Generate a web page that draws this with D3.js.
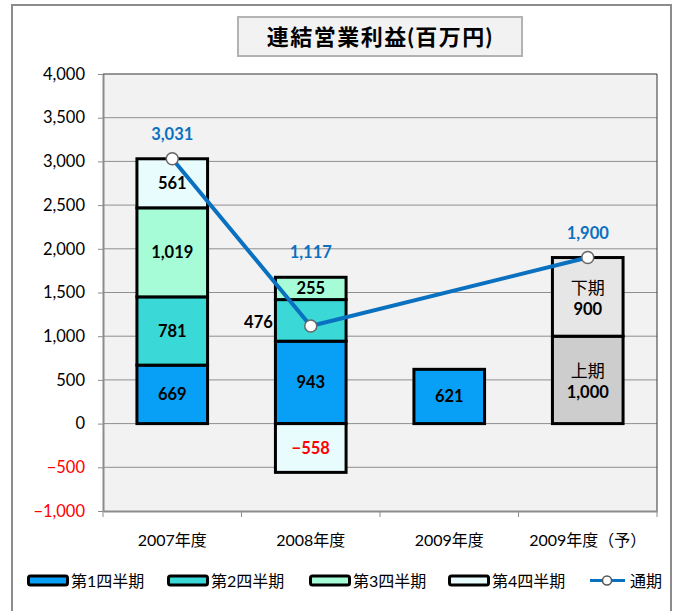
<!DOCTYPE html>
<html>
<head>
<meta charset="utf-8">
<script src="https://cdn.jsdelivr.net/npm/d3@7"></script>
<style>
  body { margin: 0; background: #fff; }
  text { font-family: Lato, 'Noto Sans CJK JP', sans-serif; }
</style>
</head>
<body>
<div id="chart"></div>
<script>
// chart values
var categories = ['2007年度', '2008年度', '2009年度', '2009年度（予）'];
var q1 = [669, 943, 621, null];
var q2 = [781, 476, null, null];
var q3 = [1019, 255, null, null];
var q4 = [561, -558, null, null];
var firstHalf = [null, null, null, 1000];
var secondHalf = [null, null, null, 900];
var fullYear = [3031, 1117, null, 1900];
var yTicks = [-1000, -500, 0, 500, 1000, 1500, 2000, 2500, 3000, 3500, 4000];

var series = [
    { name: '第1四半期', values: q1, fill: '#08a0f6', label: function(v) { return d3.format(',')(v); } },
    { name: '第2四半期', values: q2, fill: '#3ad8d6', label: function(v) { return d3.format(',')(v); } },
    { name: '第3四半期', values: q3, fill: '#a6fcd6', label: function(v) { return d3.format(',')(v); } },
    { name: '第4四半期', values: q4, fill: '#e8fbfd', label: function(v) { return d3.format(',')(v); } },
    { name: '上期', values: firstHalf, fill: '#cdcdcd', label: function(v) { return '上期\n' + d3.format(',')(v); } },
    { name: '下期', values: secondHalf, fill: '#e6e6e6', label: function(v) { return '下期\n' + d3.format(',')(v); } }
];

var svg = d3.select('#chart')
    .append('svg')
    .attr('width', 681)
    .attr('height', 611);

// outer frame
svg.append('rect')
    .attr('x', 12).attr('y', 5)
    .attr('width', 659).attr('height', 640)
    .attr('fill', '#fff')
    .attr('stroke', '#8c8c8c')
    .attr('stroke-width', 2);

// title box
svg.append('rect')
    .attr('x', 238).attr('y', 17)
    .attr('width', 284).attr('height', 39)
    .attr('fill', '#f2f2f2')
    .attr('stroke', '#b3b3b3')
    .attr('stroke-width', 2);
svg.append('text')
    .attr('x', 380).attr('y', 45)
    .attr('text-anchor', 'middle')
    .attr('font-size', '22px')
    .attr('font-weight', 'bold')
    .attr('letter-spacing', '1.5px')
    .text('連結営業利益(百万円)');

var plotLeft = 103, plotRight = 657, plotTop = 74, plotBottom = 511;

var x = d3.scaleBand().domain(categories).range([plotLeft, plotRight])
    .paddingInner(0.49).paddingOuter(0.245);
var y = d3.scaleLinear().domain([-1000, 4000]).range([plotBottom, plotTop]);

// plot background
svg.append('rect')
    .attr('x', plotLeft).attr('y', plotTop)
    .attr('width', plotRight - plotLeft).attr('height', plotBottom - plotTop)
    .attr('fill', '#f2f2f2');

// gridlines
svg.append('g')
    .selectAll('line')
    .data(yTicks.filter(function(d) { return d > -1000 && d < 4000; }))
    .enter()
    .append('line')
    .attr('x1', plotLeft).attr('x2', plotRight)
    .attr('y1', function(d) { return y(d); })
    .attr('y2', function(d) { return y(d); })
    .attr('stroke', '#8f8f8f')
    .attr('stroke-width', 1);

// y axis
var yAxis = svg.append('g')
    .attr('transform', 'translate(' + plotLeft + ',0)')
    .call(d3.axisLeft(y).tickValues(yTicks).tickFormat(d3.format(',')).tickSizeOuter(0).tickSizeInner(5).tickPadding(13));
yAxis.select('.domain').attr('stroke', '#8c8c8c').attr('stroke-width', 2);
yAxis.selectAll('.tick line').attr('stroke', '#8c8c8c');
yAxis.selectAll('.tick text')
    .attr('font-size', '16.5px')
    .attr('fill', function(d) { return d < 0 ? '#ff0000' : '#000'; });

// top / right border
svg.append('path')
    .attr('d', 'M' + plotLeft + ',' + plotTop + 'H' + plotRight + 'V' + plotBottom)
    .attr('fill', 'none')
    .attr('stroke', '#333')
    .attr('stroke-width', 1);

// x axis
var xAxis = svg.append('g')
    .attr('transform', 'translate(0,' + plotBottom + ')')
    .call(d3.axisBottom(x).tickSize(0).tickPadding(24));
xAxis.select('.domain').attr('stroke', '#8c8c8c').attr('stroke-width', 2);
xAxis.selectAll('text').attr('font-size', '16px').attr('fill', '#000');
svg.append('g')
    .selectAll('line')
    .data(d3.range(categories.length + 1))
    .enter()
    .append('line')
    .attr('x1', function(i) { return plotLeft + i * x.step(); })
    .attr('x2', function(i) { return plotLeft + i * x.step(); })
    .attr('y1', plotBottom).attr('y2', plotBottom + 6)
    .attr('stroke', '#8c8c8c');

// stack the segments
var segments = [];
var stackTop = [];
categories.forEach(function(c, ci) {
    var pos = 0, neg = 0;
    series.forEach(function(s) {
        var v = s.values[ci];
        if (v === null) return;
        var y0, y1;
        if (v >= 0) { y0 = pos; y1 = pos + v; pos = y1; }
        else { y0 = neg; y1 = neg + v; neg = y1; }
        segments.push({ cat: c, series: s, value: v, y0: y0, y1: y1 });
    });
    stackTop.push(pos);
});

var g = svg.append('g');
g.selectAll('rect')
    .data(segments)
    .enter()
    .append('rect')
    .attr('x', function(d) { return x(d.cat); })
    .attr('y', function(d) { return y(Math.max(d.y0, d.y1)); })
    .attr('width', x.bandwidth())
    .attr('height', function(d) { return Math.abs(y(d.y0) - y(d.y1)); })
    .attr('fill', function(d) { return d.series.fill; })
    .attr('stroke', '#000')
    .attr('stroke-width', 3);

// segment labels
var lbl = g.append('g')
    .selectAll('text')
    .data(segments)
    .enter()
    .append('text')
    .attr('text-anchor', 'middle')
    .attr('font-size', '16.5px')
    .attr('font-weight', 'bold')
    .attr('fill', function(d) { return d.value < 0 ? '#ff0000' : '#000'; })
    .attr('transform', function(d) {
        var cx = x(d.cat) + x.bandwidth() / 2;
        var cy = y((d.y0 + d.y1) / 2);
        // 2008 Q2 label sits left of the bar
        if (d.cat === '2008年度' && d.series.name === '第2四半期') {
            cx = x(d.cat) - 17;
            cy = cy + 2;
        }
        return 'translate(' + cx + ',' + cy + ')';
    });
lbl.each(function(d) {
    var lines = d.series.label(d.value).split('\n');
    var t = d3.select(this);
    if (lines.length === 1) {
        t.append('tspan').attr('x', 0).attr('dy', '0.35em').text(lines[0]);
        return;
    }
    t.append('tspan')
        .attr('x', 0).attr('y', -3)
        .attr('font-weight', 'normal')
        .attr('font-size', '17px')
        .text(lines[0]);
    t.append('tspan')
        .attr('x', 0).attr('y', 18)
        .text(lines[1]);
});

// 通期 line
var linePts = categories.map(function(c, i) { return { cat: c, value: fullYear[i], top: stackTop[i] }; })
    .filter(function(d) { return d.value !== null; });
var line = d3.line()
    .x(function(d) { return x(d.cat) + x.bandwidth() / 2; })
    .y(function(d) { return y(d.value); });
svg.append('path')
    .datum(linePts)
    .attr('d', line)
    .attr('fill', 'none')
    .attr('stroke', '#0a70c0')
    .attr('stroke-width', 4);
svg.append('g')
    .selectAll('circle')
    .data(linePts)
    .enter()
    .append('circle')
    .attr('cx', function(d) { return x(d.cat) + x.bandwidth() / 2; })
    .attr('cy', function(d) { return y(d.value); })
    .attr('r', 6)
    .attr('fill', '#fff')
    .attr('stroke', '#666')
    .attr('stroke-width', 1.5);
svg.append('g')
    .selectAll('text')
    .data(linePts)
    .enter()
    .append('text')
    .attr('x', function(d) { return x(d.cat) + x.bandwidth() / 2; })
    .attr('y', function(d) { return y(Math.max(d.value, d.top)) - 19; })
    .attr('text-anchor', 'middle')
    .attr('font-size', '16.5px')
    .attr('font-weight', 'bold')
    .attr('fill', '#0a70c0')
    .text(function(d) { return d3.format(',')(d.value); });

// legend
var legendX = [27, 167, 309, 448];
var leg = svg.append('g');
series.slice(0, 4).forEach(function(s, i) {
    leg.append('rect')
        .attr('x', legendX[i] + 1.5).attr('y', 576)
        .attr('width', 39).attr('height', 9)
        .attr('rx', 2)
        .attr('fill', s.fill)
        .attr('stroke', '#000')
        .attr('stroke-width', 3);
    leg.append('text')
        .attr('x', legendX[i] + 44).attr('y', 587)
        .attr('font-size', '16px')
        .text(s.name);
});
leg.append('line')
    .attr('x1', 590).attr('x2', 625)
    .attr('y1', 580.5).attr('y2', 580.5)
    .attr('stroke', '#0a70c0')
    .attr('stroke-width', 3);
leg.append('circle')
    .attr('cx', 607).attr('cy', 580.5).attr('r', 4.5)
    .attr('fill', '#fff')
    .attr('stroke', '#555')
    .attr('stroke-width', 1.5);
leg.append('text')
    .attr('x', 630).attr('y', 587)
    .attr('font-size', '16px')
    .text('通期');
</script>
</body>
</html>
